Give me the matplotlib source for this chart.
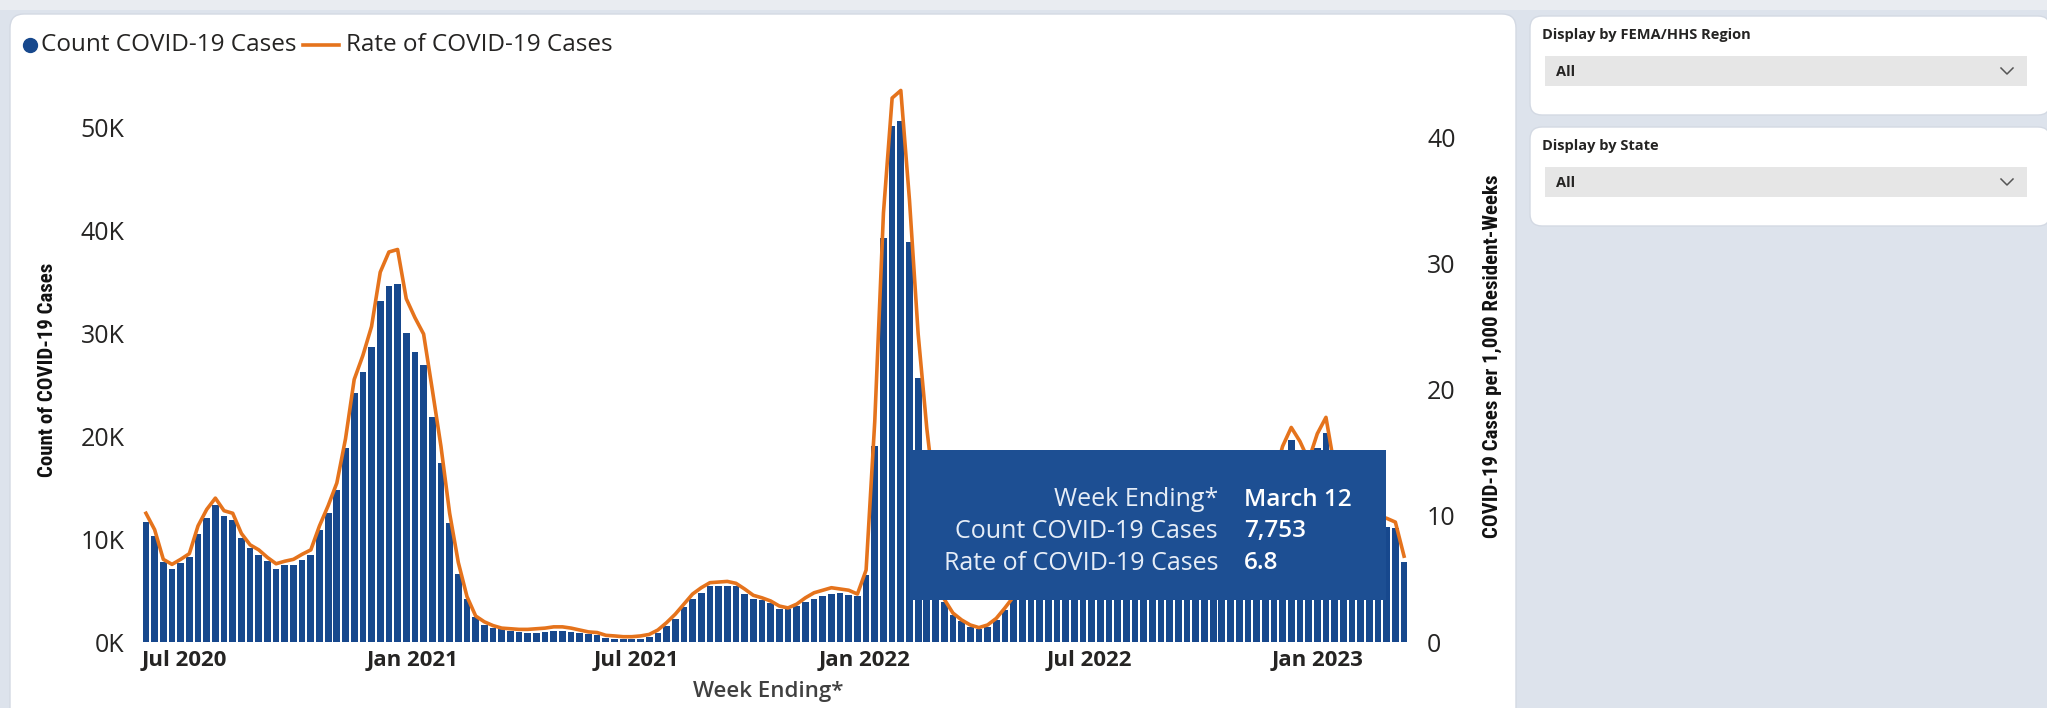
import matplotlib
matplotlib.use("Agg")
import matplotlib.pyplot as plt
import pandas as pd
from matplotlib.patches import FancyBboxPatch, Rectangle

# ---------------------------------------------------------------- data
week_ending = pd.date_range("2020-05-31", "2023-03-12", freq="W-SUN")

case_counts = [
    11700, 10300, 7800, 7100, 7700, 8300, 10500, 12050, 13300, 12200,
    11900, 10100, 9100, 8500, 7900, 7100, 7450, 7500, 8000, 8500,
    10900, 12500, 14800, 18900, 24200, 26200, 28700, 33100, 34600, 34800,
    30000, 28200, 26950, 21900, 17400, 11600, 6600, 4150, 2400, 1700,
    1400, 1230, 1070, 970, 900, 900, 1000, 1040, 1070, 970,
    870, 750, 650, 420, 320, 260, 260, 320, 520, 900,
    1550, 2270, 3430, 4150, 4800, 5400, 5450, 5450, 5450, 4700,
    4200, 4100, 3750, 3250, 3200, 3500, 3900, 4200, 4500, 4700,
    4800, 4600, 4500, 6500, 19000, 39300, 50100, 50600, 38900, 25700,
    18000, 12000, 3900, 2600, 2000, 1500, 1300, 1500, 2100, 3100,
    4200, 4900, 5900, 6800, 7400, 7800, 8300, 9000, 9800, 10100,
    11400, 12300, 12800, 12900, 12600, 12200, 11600, 10900, 10000, 9900,
    9400, 9000, 8600, 8400, 8500, 9000, 9600, 10200, 11100, 12500,
    14800, 17600, 19600, 18100, 16400, 18900, 20300, 15700, 13700, 12500,
    12000, 11600, 11400, 11200, 11100, 7753,
]

case_rates = [
    10.2, 8.9, 6.55, 6.15, 6.55, 7.0, 9.2, 10.5, 11.4, 10.4,
    10.2, 8.6, 7.7, 7.3, 6.7, 6.2, 6.4, 6.55, 6.95, 7.3,
    9.2, 10.8, 12.6, 16.1, 20.8, 22.7, 25.0, 29.3, 30.9, 31.1,
    27.2, 25.7, 24.4, 20.0, 15.5, 10.2, 6.3, 3.6, 2.06, 1.6,
    1.3, 1.1, 1.05, 1.0, 1.0, 1.05, 1.1, 1.2, 1.2, 1.1,
    0.95, 0.8, 0.75, 0.53, 0.48, 0.42, 0.42, 0.48, 0.6, 0.95,
    1.53, 2.2, 3.0, 3.8, 4.3, 4.7, 4.75, 4.8, 4.65, 4.2,
    3.7, 3.5, 3.25, 2.85, 2.7, 3.0, 3.5, 3.9, 4.1, 4.3,
    4.2, 4.1, 3.8, 5.7, 17.5, 34.0, 43.1, 43.7, 35.0, 24.4,
    16.9, 11.0, 3.4, 2.3, 1.75, 1.35, 1.14, 1.35, 1.87, 2.7,
    3.6, 4.3, 5.2, 6.0, 6.5, 6.9, 7.3, 7.9, 8.6, 8.9,
    10.0, 10.8, 11.2, 11.3, 11.0, 10.7, 10.2, 9.6, 8.8, 8.7,
    8.3, 7.9, 7.6, 7.4, 7.5, 7.9, 8.4, 9.0, 9.8, 11.0,
    13.0, 15.5, 17.0, 15.9, 14.4, 16.5, 17.8, 13.8, 12.0, 11.0,
    10.5, 10.2, 10.0, 9.8, 9.5, 6.8,
]

count_ticks = [0, 10000, 20000, 30000, 40000, 50000]
rate_ticks = [0, 10, 20, 30, 40]
month_ticks = ["2020-07-01", "2021-01-01", "2021-07-01",
               "2022-01-01", "2022-07-01", "2023-01-01"]
month_labels = ["Jul 2020", "Jan 2021", "Jul 2021",
                "Jan 2022", "Jul 2022", "Jan 2023"]

legend_labels = ["Count COVID-19 Cases", "Rate of COVID-19 Cases"]
left_title = "Count of COVID-19 Cases"
right_title = "COVID-19 Cases per 1,000 Resident-Weeks"
x_title = "Week Ending*"
slicer_titles = ["Display by FEMA/HHS Region", "Display by State"]
slicer_value = "All"

# ---------------------------------------------------------------- style
W, H = 2047, 708
PAGE = "#dde3ec"
BAR = "#17488d"
ORANGE = "#e5731c"
TIP = "#1d4f93"
INK = "#252423"
FONT = "Open Sans"
NARROW = ["Liberation Sans Narrow", "Roboto Condensed", "DejaVu Sans"]
plt.rcParams["font.family"] = [FONT, "DejaVu Sans"]

fig = plt.figure(figsize=(W / 100, H / 100), dpi=100)
fig.patch.set_facecolor(PAGE)


def pixel_axes(z):
    a = fig.add_axes([0, 0, 1, 1], zorder=z)
    a.set_xlim(0, W)
    a.set_ylim(H, 0)
    a.axis("off")
    a.patch.set_visible(False)
    return a


# page furniture: cards and slicers
bg = pixel_axes(0)
bg.add_patch(Rectangle((0, 0), W, 10, fc="#e9ecf1", ec="none"))
bg.add_patch(FancyBboxPatch((10, 14), 1506, 710, boxstyle="round,pad=0,rounding_size=14",
                            fc="white", ec="#d3d9e3", lw=1))
for title, top in zip(slicer_titles, [16, 127]):
    bg.add_patch(FancyBboxPatch((1530, top), 520, 99, boxstyle="round,pad=0,rounding_size=12",
                                fc="white", ec="#d3d9e3", lw=1))
    bg.text(1542, top + 19, title, fontsize=10.5, fontweight="bold", color=INK,
            ha="left", va="center")
    bg.add_patch(Rectangle((1545, top + 40), 482, 30, fc="#e6e6e6", ec="none"))
    bg.text(1556, top + 56, slicer_value, fontsize=10.5, fontweight="bold", color=INK,
            ha="left", va="center")
    cy = top + 55
    bg.plot([2001, 2007, 2013], [cy - 3, cy + 3, cy - 3], color="#555555", lw=1.1)

# ---------------------------------------------------------------- chart
x_left, x_right, y_top, y_zero = 141, 1409, 76, 642
ax = fig.add_axes([x_left / W, (H - y_zero) / H, (x_right - x_left) / W, (y_zero - y_top) / H],
                  zorder=1)
ax.patch.set_visible(False)
ax.bar(week_ending, case_counts, width=5.4, color=BAR, linewidth=0)
ax.set_xlim(week_ending[0] - pd.Timedelta(days=4), week_ending[-1] + pd.Timedelta(days=4))
count_max = 55000
ax.set_ylim(0, count_max)

ax2 = ax.twinx()
ax2.set_zorder(2)
ax2.patch.set_visible(False)
ax2.plot(week_ending, case_rates, color=ORANGE, lw=2.6, solid_joinstyle="round")
ax2.set_ylim(0, count_max / 1000 * 10.29 / 12.62)

for a in (ax, ax2):
    for s in a.spines.values():
        s.set_visible(False)

ax.set_yticks(count_ticks)
ax.set_yticklabels([f"{v // 1000}K" for v in count_ticks])
ax.tick_params(axis="y", length=0, pad=12, labelsize=18, labelcolor=INK)
ax2.set_yticks(rate_ticks)
ax2.set_yticklabels([str(v) for v in rate_ticks])
ax2.tick_params(axis="y", length=0, pad=13, labelsize=18, labelcolor=INK)

ax.set_xticks(pd.to_datetime(month_ticks))
ax.set_xticklabels(month_labels, fontweight="bold")
ax.tick_params(axis="x", length=0, pad=6, labelsize=16, labelcolor=INK)

# axis titles
fig.text(48 / W, 1 - 370 / H, left_title, rotation=90, ha="center", va="center",
         fontsize=15, fontweight="bold", family=NARROW, fontstretch="condensed",
         color="#111111")
fig.text(1492 / W, 1 - 356 / H, right_title, rotation=90, ha="center", va="center",
         fontsize=15, fontweight="bold", family=NARROW, fontstretch="condensed",
         color="#111111")
fig.text(768 / W, 1 - 691 / H, x_title, ha="center", va="center",
         fontsize=16, fontweight="semibold", color="#404040")

# legend
renderer = fig.canvas.get_renderer()
bg.plot(30, 45, "o", ms=10, color=BAR)
t1 = bg.text(41, 45, legend_labels[0], fontsize=17.5, color=INK, ha="left", va="center")
x_end = t1.get_window_extent(renderer).x1
bg.plot([x_end + 6, x_end + 42], [45, 45], color=ORANGE, lw=2.6)
bg.text(x_end + 50, 45, legend_labels[1], fontsize=17.5, color=INK, ha="left", va="center")

# hover tooltip for the latest week
top = pixel_axes(5)
top.add_patch(Rectangle((910, 450), 476, 150, fc=TIP, ec="none"))
last_day = week_ending[-1]
rows = [("Week Ending*", f"{last_day:%B} {last_day.day}"),
        (legend_labels[0], f"{case_counts[-1]:,}"),
        (legend_labels[1], f"{case_rates[-1]:.1f}")]
for (lab, val), y in zip(rows, [500, 531, 563]):
    top.text(1218, y, lab, fontsize=18, color="#e6edf7", ha="right", va="center")
    top.text(1244, y, val, fontsize=17.5, fontweight="semibold", color="white",
             ha="left", va="center")

fig.savefig("out.png", dpi=100, facecolor=fig.get_facecolor())
